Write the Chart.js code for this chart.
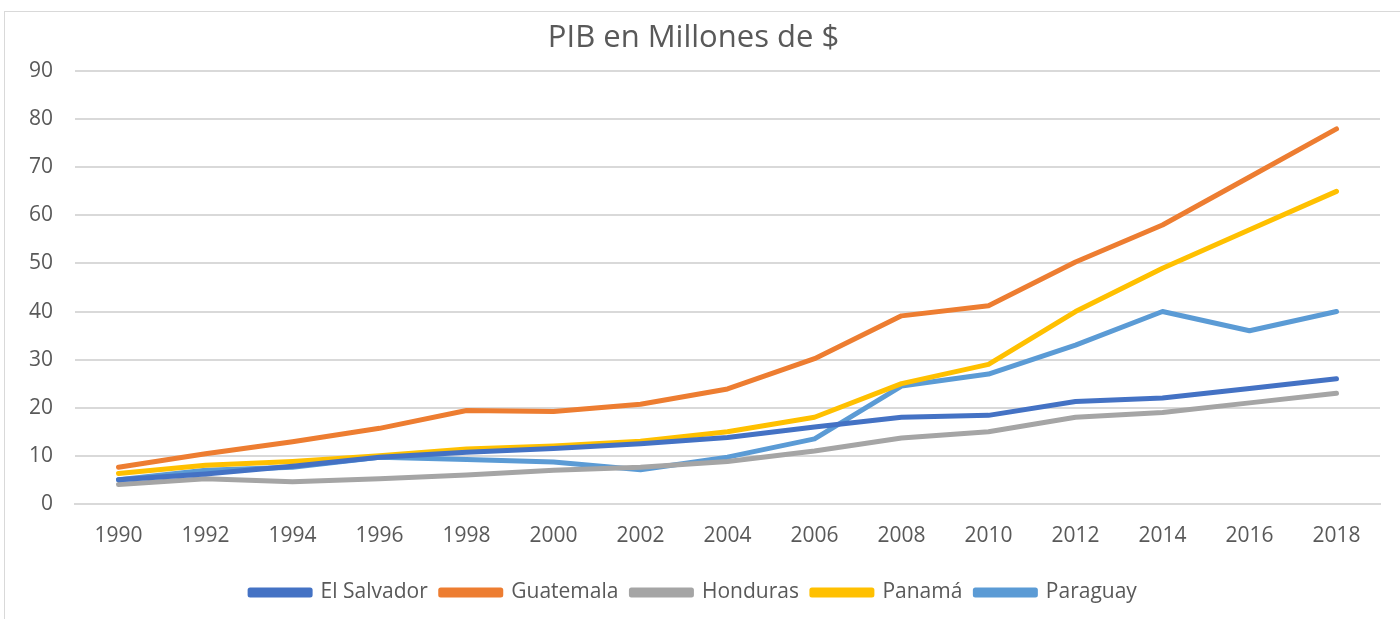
<!DOCTYPE html>
<html>
<head>
<meta charset="utf-8">
<script src="https://cdn.jsdelivr.net/npm/chart.js@4/dist/chart.umd.min.js"></script>
<style>
  html, body { margin: 0; padding: 0; background: #fff; }
  #frame { position: absolute; left: 4px; top: 11px; width: 1400px; height: 620px; border: 1px solid #d9d9d9; box-sizing: border-box; }
  #wrap { position: absolute; left: 0; top: 0; width: 1400px; height: 619px; }
</style>
</head>
<body>
<div id="frame"></div>
<div id="wrap"><canvas id="pibChart"></canvas></div>
<script>
const years = ['1990','1992','1994','1996','1998','2000','2002','2004','2006','2008','2010','2012','2014','2016','2018'];
const elSalvador = [5, 6.2, 7.8, 9.7, 10.7, 11.5, 12.5, 13.8, 16, 18, 18.4, 21.3, 22, 24, 26];
const guatemala  = [7.6, 10.4, 12.9, 15.7, 19.4, 19.2, 20.7, 23.9, 30.2, 39.1, 41.2, 50.3, 58, 68, 78];
const honduras   = [4, 5.2, 4.6, 5.2, 6, 7, 7.6, 8.8, 11, 13.7, 15, 18, 19, 21, 23];
const panama     = [6.3, 8, 8.8, 10, 11.4, 12, 13, 15, 18, 25, 29, 40, 49, 57, 65];
const paraguay   = [5, 7, 7.6, 9.7, 9.2, 8.7, 7.1, 9.7, 13.5, 24.5, 27, 33, 40, 36, 40];

const FONT = 'Open Sans, Liberation Sans, sans-serif';

function series(label, data, color) {
    return {
        label: label,
        data: data,
        borderColor: color,
        backgroundColor: color,
        borderWidth: 5,
        pointRadius: 0,
        tension: 0,
        borderJoinStyle: 'round',
        borderCapStyle: 'round'
    };
}

const ctx = document.getElementById('pibChart').getContext('2d');
new Chart(ctx, {
    type: 'line',
    data: {
        labels: years,
        datasets: [
            series('El Salvador', elSalvador, '#4472c4'),
            series('Guatemala', guatemala, '#ed7d31'),
            series('Honduras', honduras, '#a5a5a5'),
            series('Panamá', panama, '#ffc000'),
            series('Paraguay', paraguay, '#5b9bd5')
        ]
    },
    options: {
        responsive: true,
        maintainAspectRatio: false,
        animation: false,
        layout: { padding: { left: 7, right: 20, top: 18, bottom: 6 } },
        plugins: {
            title: {
                display: true,
                text: 'PIB en Millones de $',
                color: '#595959',
                font: { family: FONT, size: 31, weight: 'normal' },
                padding: { top: 2, bottom: 14 }
            },
            legend: {
                position: 'bottom',
                labels: {
                    color: '#595959',
                    font: { family: FONT, size: 21 },
                    boxWidth: 60,
                    boxHeight: 5,
                    padding: 13
                }
            },
            tooltip: { enabled: false }
        },
        scales: {
            x: {
                offset: true,
                grid: { display: false, drawTicks: false },
                border: { color: '#d9d9d9', width: 2 },
                ticks: { color: '#595959', font: { family: FONT, size: 21 }, padding: 20, maxRotation: 0 }
            },
            y: {
                min: 0,
                max: 90,
                ticks: { stepSize: 10, color: '#595959', font: { family: FONT, size: 21 }, padding: 22 },
                grid: { color: '#d9d9d9', lineWidth: 2, drawTicks: false },
                border: { display: false }
            }
        }
    }
});
</script>
</body>
</html>
